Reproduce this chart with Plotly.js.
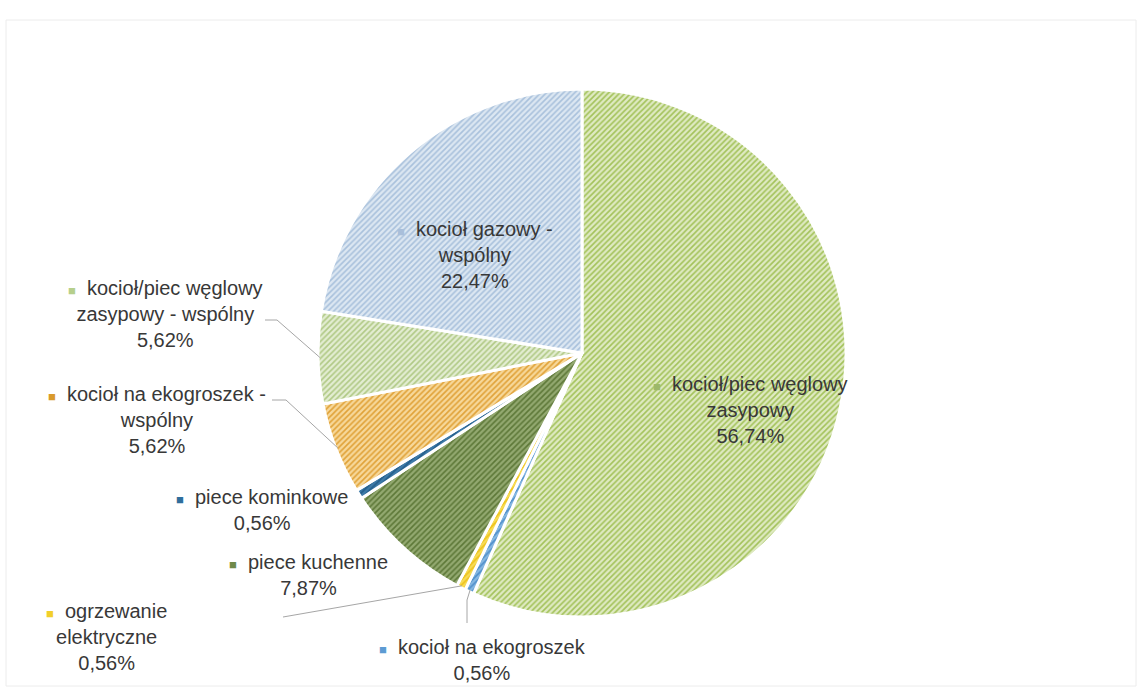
<!DOCTYPE html>
<html>
<head>
<meta charset="utf-8">
<script src="https://cdn.plot.ly/plotly-3.0.1.min.js"></script>
<style>html,body{margin:0;padding:0;background:#fff;}#chart{width:1141px;height:690px;}</style>
</head>
<body>
<div id="chart"></div>
<script>
// ---- data ----
const categories = [
  'kocioł/piec węglowy zasypowy',
  'kocioł na ekogroszek',
  'ogrzewanie elektryczne',
  'piece kuchenne',
  'piece kominkowe',
  'kocioł na ekogroszek - wspólny',
  'kocioł/piec węglowy zasypowy - wspólny',
  'kocioł gazowy - wspólny'
];
const values = [56.74, 0.56, 0.56, 7.87, 0.56, 5.62, 5.62, 22.47];
const labelLines = [
  ['kocioł/piec węglowy', 'zasypowy'],
  ['kocioł na ekogroszek'],
  ['ogrzewanie', 'elektryczne'],
  ['piece kuchenne'],
  ['piece kominkowe'],
  ['kocioł na ekogroszek -', 'wspólny'],
  ['kocioł/piec węglowy', 'zasypowy - wspólny'],
  ['kocioł gazowy -', 'wspólny']
];

// ---- styles ----
const bgColors = ['#dfeac2', '#86b8e2', '#f7dc55', '#93a970', '#3d7aa8', '#f7d89a', '#e3edd2', '#dce7f2'];
const fgColors = ['#a3c25a', '#4f8fcb', '#eec21c', '#5d7838', '#235d8a', '#e0a238', '#b0c985', '#a9c1dc'];
const swatch   = ['#9db86a', '#5d9bd3', '#f2cf2a', '#6f8a4a', '#2f6e9c', '#d99a2c', '#b6cf8c', '#a9bfda'];
// label block centres (pixels) and leader elbows
const labelPos = [[750, 410], [482, 660], [106, 637], [308, 575], [262, 510], [157, 420], [165, 314], [475, 255]];
const leaders = {
  6: [[265, 320], [277, 320]],
  5: [[272, 400], [286, 400]],
  2: [[283, 617]],
  1: [[467, 623], [467, 600]]
};

const W = 1141, H = 690;
const cx = 582, cy = 353, R = 264;
const px = x => x / W;
const py = y => 1 - y / H;

const total = values.reduce((a, b) => a + b, 0);
function edgePoint(i, rr) {
  let before = 0;
  for (let k = 0; k < i; k++) before += values[k];
  const mid = (before + values[i] / 2) / total * 2 * Math.PI;
  return [cx + rr * Math.sin(mid), cy - rr * Math.cos(mid)];
}

const trace = {
  type: 'pie',
  labels: categories,
  values: values,
  sort: false,
  direction: 'clockwise',
  rotation: 0,
  textinfo: 'none',
  hoverinfo: 'none',
  automargin: false,
  domain: {x: [px(cx - R), px(cx + R)], y: [py(cy + R), py(cy - R)]},
  marker: {
    colors: bgColors,
    line: {color: '#ffffff', width: 3},
    pattern: {shape: '/', fgcolor: fgColors, bgcolor: bgColors, size: 4, solidity: 0.4}
  },
  showlegend: false
};

const annotations = categories.map((c, i) => {
  const pct = values[i].toFixed(2).replace('.', ',') + '%';
  const lines = labelLines[i].slice();
  lines[0] = '<span style="font-size:13px;color:' + swatch[i] + '">■</span>  ' + lines[0];
  lines.push(pct);
  return {
    xref: 'paper', yref: 'paper',
    x: px(labelPos[i][0]), y: py(labelPos[i][1]),
    xanchor: 'center', yanchor: 'middle',
    text: lines.join('<br>'),
    align: 'center',
    showarrow: false,
    font: {family: 'Liberation Sans, Arial, sans-serif', size: 20, color: '#383838'}
  };
});

const shapes = [];
Object.keys(leaders).forEach(k => {
  const i = +k;
  const pts = leaders[k].concat([edgePoint(i, R - 2)]);
  for (let j = 0; j < pts.length - 1; j++) {
    shapes.push({
      type: 'line', xref: 'paper', yref: 'paper',
      x0: px(pts[j][0]), y0: py(pts[j][1]), x1: px(pts[j + 1][0]), y1: py(pts[j + 1][1]),
      line: {color: '#a6a6a6', width: 1}
    });
  }
});
// faint frame
shapes.push({type: 'rect', xref: 'paper', yref: 'paper', x0: px(6), x1: px(1136), y0: py(686), y1: py(20),
  line: {color: '#ececec', width: 1}});

const layout = {
  width: W, height: H, autosize: false,
  margin: {l: 0, r: 0, t: 0, b: 0},
  paper_bgcolor: '#ffffff', plot_bgcolor: '#ffffff',
  annotations: annotations,
  shapes: shapes,
  showlegend: false
};

Plotly.newPlot('chart', [trace], layout, {displayModeBar: false, staticPlot: true});
</script>
</body>
</html>
